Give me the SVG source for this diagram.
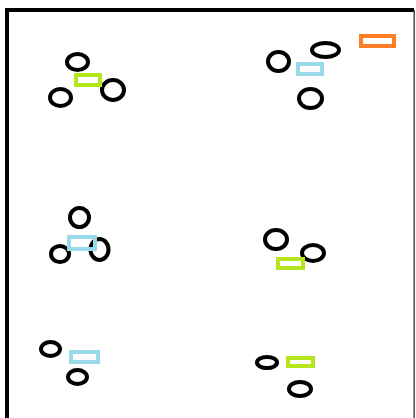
<svg xmlns="http://www.w3.org/2000/svg" width="416" height="418" viewBox="0 0 416 418">
<style>
.n{fill:none;stroke:#000;stroke-width:4}
.g{fill:none;stroke:#b5e61d;stroke-width:4}
.b{fill:none;stroke:#99d9ea;stroke-width:4}
.o{fill:none;stroke:#ff7f27;stroke-width:4}
</style>
<rect width="416" height="418" fill="#fff"/>
<g id="frame">
<line x1="5" y1="10" x2="414" y2="10" stroke="#000" stroke-width="4"/>
<line x1="7" y1="8" x2="7" y2="418" stroke="#000" stroke-width="4"/>
<line x1="414.2" y1="10" x2="414.2" y2="418" stroke="#555" stroke-width="1.6"/>
</g>
<g id="connectors"></g>
<g id="cluster1">
<ellipse id="n1a" class="n" cx="77.5" cy="62" rx="10.5" ry="8"/>
<ellipse id="n1b" class="n" cx="113" cy="90" rx="11" ry="10"/>
<ellipse id="n1c" class="n" cx="60.5" cy="97.5" rx="10.5" ry="8.5"/>
<rect id="r1" class="g" x="76" y="75" width="24" height="10"/>
</g>
<g id="cluster2">
<ellipse id="n2a" class="n" cx="325.5" cy="50" rx="13.5" ry="7"/>
<ellipse id="n2b" class="n" cx="278.5" cy="61.5" rx="10.5" ry="9.5"/>
<ellipse id="n2c" class="n" cx="310.5" cy="98.5" rx="11.5" ry="9.5"/>
<rect id="r2" class="b" x="298" y="64" width="24" height="10"/>
<rect id="r2o" class="o" x="361" y="36" width="33" height="10"/>
</g>
<g id="cluster3">
<ellipse id="n3a" class="n" cx="79.5" cy="217.5" rx="9.5" ry="9.5"/>
<ellipse id="n3b" class="n" cx="60" cy="254" rx="9" ry="8"/>
<ellipse id="n3c" class="n" cx="99.5" cy="249.5" rx="9" ry="10.5"/>
<rect id="r3" class="b" x="69" y="237" width="26" height="12"/>
</g>
<g id="cluster4">
<ellipse id="n4a" class="n" cx="276" cy="239.5" rx="11" ry="9.5"/>
<ellipse id="n4b" class="n" cx="313" cy="253" rx="11" ry="8"/>
<rect id="r4" class="g" x="278" y="259" width="25" height="9"/>
</g>
<g id="cluster5">
<ellipse id="n5a" class="n" cx="50.5" cy="349" rx="9.5" ry="7"/>
<ellipse id="n5b" class="n" cx="77.5" cy="377" rx="9.5" ry="7"/>
<rect id="r5" class="b" x="71" y="352" width="27" height="10"/>
</g>
<g id="cluster6">
<ellipse id="n6a" class="n" cx="267" cy="362.5" rx="10" ry="5.5"/>
<ellipse id="n6b" class="n" cx="300" cy="389" rx="11" ry="7"/>
<rect id="r6" class="g" x="288" y="358" width="25" height="8"/>
</g>
</svg>
